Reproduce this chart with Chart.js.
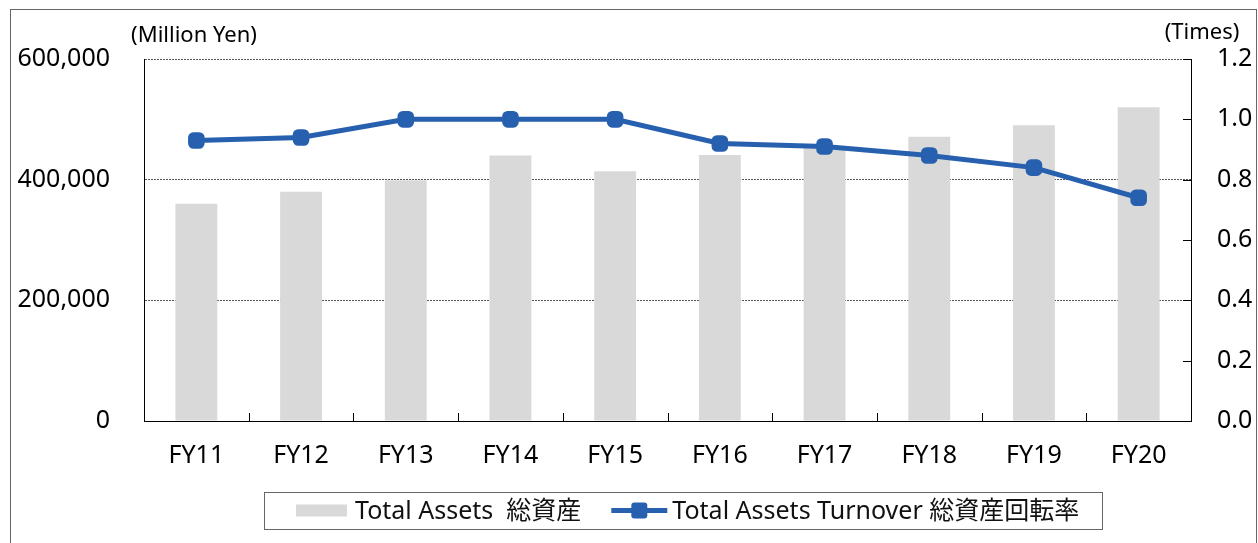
<!DOCTYPE html>
<html lang="en">

<head>
    <meta charset="UTF-8">
    <title>Total Assets / Total Assets Turnover</title>
    <script src="https://cdn.jsdelivr.net/npm/chart.js@4.4.0/dist/chart.umd.min.js"></script>
    <style>
        html, body {
            margin: 0;
            padding: 0;
            background: #fff;
        }

        #wrap {
            width: 1258px;
            height: 543px;
        }
    </style>
</head>

<body>
    <div id="wrap">
        <canvas id="assets-chart" width="1258" height="543"></canvas>
    </div>

    <script>
        // data
        const years = ['FY11', 'FY12', 'FY13', 'FY14', 'FY15', 'FY16', 'FY17', 'FY18', 'FY19', 'FY20'];
        const totalAssets = [360000, 380000, 399000, 440000, 414000, 441000, 454000, 471000, 490000, 520000];
        const turnover = [0.93, 0.94, 1.0, 1.0, 1.0, 0.92, 0.91, 0.88, 0.84, 0.74];

        const assetsLabel = 'Total Assets  総資産';
        const turnoverLabel = 'Total Assets Turnover 総資産回転率';
        const leftUnit = '(Million Yen)';
        const rightUnit = '(Times)';

        const FONT = "'Noto Sans', 'Noto Sans CJK JP', sans-serif";
        const BAR_COLOR = '#d9d9d9';
        const LINE_COLOR = '#2760ae';

        // frame, unit labels, inner tick marks and the boxed legend
        const decorations = {
            id: 'decorations',
            beforeDraw(chart) {
                const ctx = chart.ctx;
                ctx.save();
                ctx.strokeStyle = '#666';
                ctx.lineWidth = 1;
                ctx.strokeRect(10.5, 9.5, 1246, 540);
                ctx.restore();
            },
            afterDraw(chart) {
                const ctx = chart.ctx;
                const area = chart.chartArea;
                const x = chart.scales.x;
                const y1 = chart.scales.y1;
                ctx.save();

                // units
                ctx.fillStyle = '#000';
                ctx.font = '22px ' + FONT;
                ctx.textBaseline = 'middle';
                ctx.textAlign = 'center';
                ctx.fillText(leftUnit, 194, 36);
                ctx.fillText(rightUnit, 1202, 33);

                // tick marks pointing into the plot
                ctx.strokeStyle = '#000';
                ctx.lineWidth = 1;
                ctx.beginPath();
                for (let i = 1; i < years.length; i++) {
                    const px = Math.round((x.getPixelForValue(i - 1) + x.getPixelForValue(i)) / 2) + 0.5;
                    ctx.moveTo(px, area.bottom);
                    ctx.lineTo(px, area.bottom - 8);
                }
                y1.ticks.forEach(t => {
                    const py = Math.round(y1.getPixelForValue(t.value)) + 0.5;
                    ctx.moveTo(area.right, py);
                    ctx.lineTo(area.right - 8, py);
                });
                ctx.stroke();

                // legend
                const top = 492, h = 37, cy = top + h / 2;
                ctx.font = '25px ' + FONT;
                ctx.textAlign = 'left';
                let cx = 264;
                const w1 = ctx.measureText(assetsLabel).width;
                ctx.strokeStyle = '#666';
                ctx.strokeRect(cx + 0.5, top + 0.5, 838, h);

                ctx.fillStyle = BAR_COLOR;
                ctx.fillRect(cx + 32, cy - 6, 51, 12);
                ctx.fillStyle = '#111';
                ctx.fillText(assetsLabel, cx + 91, cy + 1);

                const lx = cx + 91 + w1 + 30;
                ctx.strokeStyle = LINE_COLOR;
                ctx.lineWidth = 5;
                ctx.beginPath();
                ctx.moveTo(lx, cy);
                ctx.lineTo(lx + 56, cy);
                ctx.stroke();
                ctx.fillStyle = LINE_COLOR;
                ctx.beginPath();
                ctx.roundRect(lx + 20, cy - 8, 16, 16, 3);
                ctx.fill();
                ctx.fillStyle = '#111';
                ctx.fillText(turnoverLabel, lx + 61, cy + 1);

                ctx.restore();
            }
        };

        new Chart(document.getElementById('assets-chart'), {
            data: {
                labels: years,
                datasets: [
                    {
                        type: 'line',
                        label: turnoverLabel,
                        data: turnover,
                        yAxisID: 'y1',
                        borderColor: LINE_COLOR,
                        borderWidth: 5,
                        pointStyle: 'rectRounded',
                        pointRadius: 8.5,
                        pointBackgroundColor: LINE_COLOR,
                        pointBorderColor: LINE_COLOR,
                        pointBorderWidth: 2,
                        tension: 0,
                        order: 0,
                    },
                    {
                        type: 'bar',
                        label: assetsLabel,
                        data: totalAssets,
                        yAxisID: 'y',
                        backgroundColor: BAR_COLOR,
                        barPercentage: 0.4,
                        categoryPercentage: 1.0,
                        order: 1,
                    },
                ],
            },
            options: {
                responsive: false,
                animation: false,
                devicePixelRatio: 1,
                layout: { padding: { top: 59, left: 0, right: 0, bottom: 0 } },
                plugins: {
                    legend: { display: false },
                    tooltip: { enabled: false },
                },
                scales: {
                    x: {
                        offset: true,
                        afterFit: s => { s.height = 122; },
                        grid: { display: false, drawTicks: false },
                        border: { display: true, color: '#000', width: 1 },
                        ticks: { color: '#000', padding: 20, font: { family: FONT, size: 25 } },
                    },
                    y: {
                        position: 'left',
                        min: 0,
                        max: 600000,
                        afterFit: s => { s.width = 144; },
                        grid: { color: '#555', drawTicks: false },
                        border: { display: true, color: '#000', width: 1, dash: [2, 1] },
                        ticks: {
                            stepSize: 200000,
                            color: '#000',
                            padding: 34,
                            font: { family: FONT, size: 25 },
                            callback: v => v.toLocaleString('en-US'),
                        },
                    },
                    y1: {
                        position: 'right',
                        min: 0,
                        max: 1.2,
                        afterFit: s => { s.width = 67; },
                        grid: { drawOnChartArea: false, drawTicks: false },
                        border: { display: true, color: '#000', width: 1 },
                        ticks: {
                            stepSize: 0.2,
                            color: '#000',
                            padding: 26,
                            font: { family: FONT, size: 25 },
                            callback: v => v.toFixed(1),
                        },
                    },
                },
            },
            plugins: [decorations],
        });
    </script>
</body>

</html>
